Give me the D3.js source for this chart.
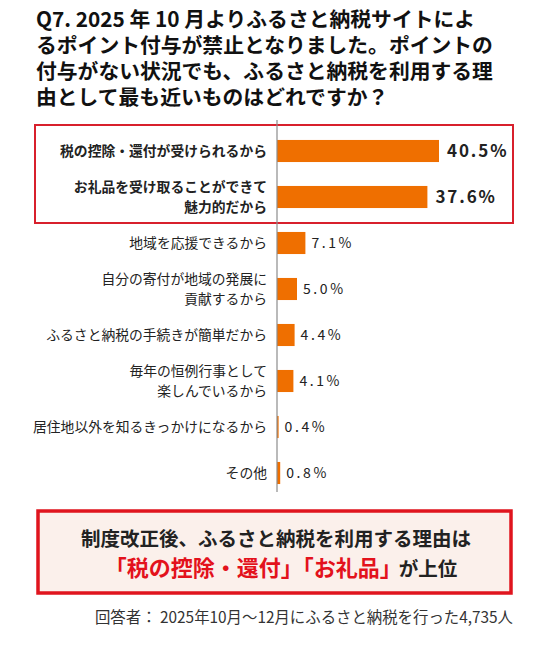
<!DOCTYPE html>
<html>
<head>
<meta charset="utf-8">
<title></title>
<script src="https://d3js.org/d3.v7.min.js"></script>
<style>
  body { margin: 0; background: #fff; }
  svg text { font-family: "Noto Sans CJK JP", "Noto Sans", sans-serif; }
</style>
</head>
<body>
<div id="svgcontainer"></div>
<script>
var width = 538;
var height = 654;

var titleLines = [
    "Q7. 2025 年 10 月よりふるさと納税サイトによ",
    "るポイント付与が禁止となりました。ポイントの",
    "付与がない状況でも、ふるさと納税を利用する理",
    "由として最も近いものはどれですか？"
];

var categories = [
    ["税の控除・還付が受けられるから"],
    ["お礼品を受け取ることができて", "魅力的だから"],
    ["地域を応援できるから"],
    ["自分の寄付が地域の発展に", "貢献するから"],
    ["ふるさと納税の手続きが簡単だから"],
    ["毎年の恒例行事として", "楽しんでいるから"],
    ["居住地以外を知るきっかけになるから"],
    ["その他"]
];
var values = [40.5, 37.6, 7.1, 5.0, 4.4, 4.1, 0.4, 0.8];
var highlighted = [true, true, false, false, false, false, false, false];

var summaryLine1 = "制度改正後、ふるさと納税を利用する理由は";
var summaryRed = "「税の控除・還付」「お礼品」";
var summaryBlack = "が上位";
var footnote = "回答者：  2025年10月～12月にふるさと納税を行った4,735人";

var svg = d3.select("#svgcontainer")
    .append("svg")
    .attr("width", width)
    .attr("height", height);

// title
svg.append("g").selectAll("text")
    .data(titleLines)
    .enter().append("text")
    .attr("x", 36)
    .attr("y", function(d, i) { return 27 + i * 26; })
    .attr("font-size", 20.8)
    .attr("font-weight", "bold")
    .attr("fill", "#111")
    .text(function(d) { return d; });

var x = d3.scaleLinear().domain([0, 50]).range([277, 477]);
var y = d3.scaleBand()
    .domain(d3.range(categories.length))
    .range([128, 496])
    .paddingInner(0.52)
    .paddingOuter(0.26);

// highlight box around top 2
svg.append("rect")
    .attr("x", 35).attr("y", 125)
    .attr("width", 478).attr("height", 98)
    .attr("fill", "none")
    .attr("stroke", "#d8202c")
    .attr("stroke-width", 2);

// bars
svg.append("g").selectAll("rect")
    .data(values)
    .enter().append("rect")
    .attr("x", x(0))
    .attr("y", function(d, i) { return y(i); })
    .attr("width", function(d) { return x(d) - x(0); })
    .attr("height", y.bandwidth())
    .attr("fill", "#ef6f00");

// axis line
svg.append("line")
    .attr("x1", x(0)).attr("x2", x(0))
    .attr("y1", 120).attr("y2", 492)
    .attr("stroke", "#8c8c8c")
    .attr("stroke-width", 1.2);

// category labels
var lab = svg.append("g").selectAll("text")
    .data(categories)
    .enter().append("text")
    .attr("text-anchor", "end")
    .attr("font-size", 13.8)
    .attr("font-weight", function(d, i) { return highlighted[i] ? "bold" : "normal"; })
    .attr("fill", "#222");

lab.each(function(d, i) {
    var cy = y(i) + y.bandwidth() / 2;
    var t = d3.select(this);
    d.forEach(function(line, j) {
        t.append("tspan")
            .attr("x", 267)
            .attr("y", cy + 5 + (j - (d.length - 1) / 2) * 20)
            .text(line);
    });
});

// value labels
svg.append("g").selectAll("text")
    .data(values)
    .enter().append("text")
    .attr("x", function(d, i) { return x(d) + (highlighted[i] ? 8 : 6); })
    .attr("y", function(d, i) { return y(i) + y.bandwidth() / 2 + (highlighted[i] ? 6 : 5); })
    .attr("font-size", function(d, i) { return highlighted[i] ? 17 : 14; })
    .attr("font-weight", function(d, i) { return highlighted[i] ? "bold" : "normal"; })
    .attr("letter-spacing", function(d, i) { return highlighted[i] ? 1.9 : 2.6; })
    .attr("fill", "#222")
    .text(function(d) { return d.toFixed(1) + "%"; });

// summary box
svg.append("rect")
    .attr("x", 38).attr("y", 511)
    .attr("width", 473).attr("height", 82)
    .attr("fill", "#fbf0eb")
    .attr("stroke", "#e0141e")
    .attr("stroke-width", 3.5);

svg.append("text")
    .attr("x", 276).attr("y", 546)
    .attr("text-anchor", "middle")
    .attr("font-size", 19.5)
    .attr("font-weight", "bold")
    .attr("fill", "#222")
    .text(summaryLine1);

var s2 = svg.append("text")
    .attr("x", 281).attr("y", 576)
    .attr("text-anchor", "middle")
    .attr("font-weight", "bold");
s2.append("tspan")
    .attr("font-size", 22)
    .attr("fill", "#e3121c")
    .text(summaryRed);
s2.append("tspan")
    .attr("font-size", 19.5)
    .attr("fill", "#222")
    .attr("dx", -3)
    .text(summaryBlack);

svg.append("text")
    .attr("x", 513).attr("y", 623)
    .attr("text-anchor", "end")
    .attr("font-size", 15.4)
    .attr("fill", "#333")
    .text(footnote);
</script>
</body>
</html>
